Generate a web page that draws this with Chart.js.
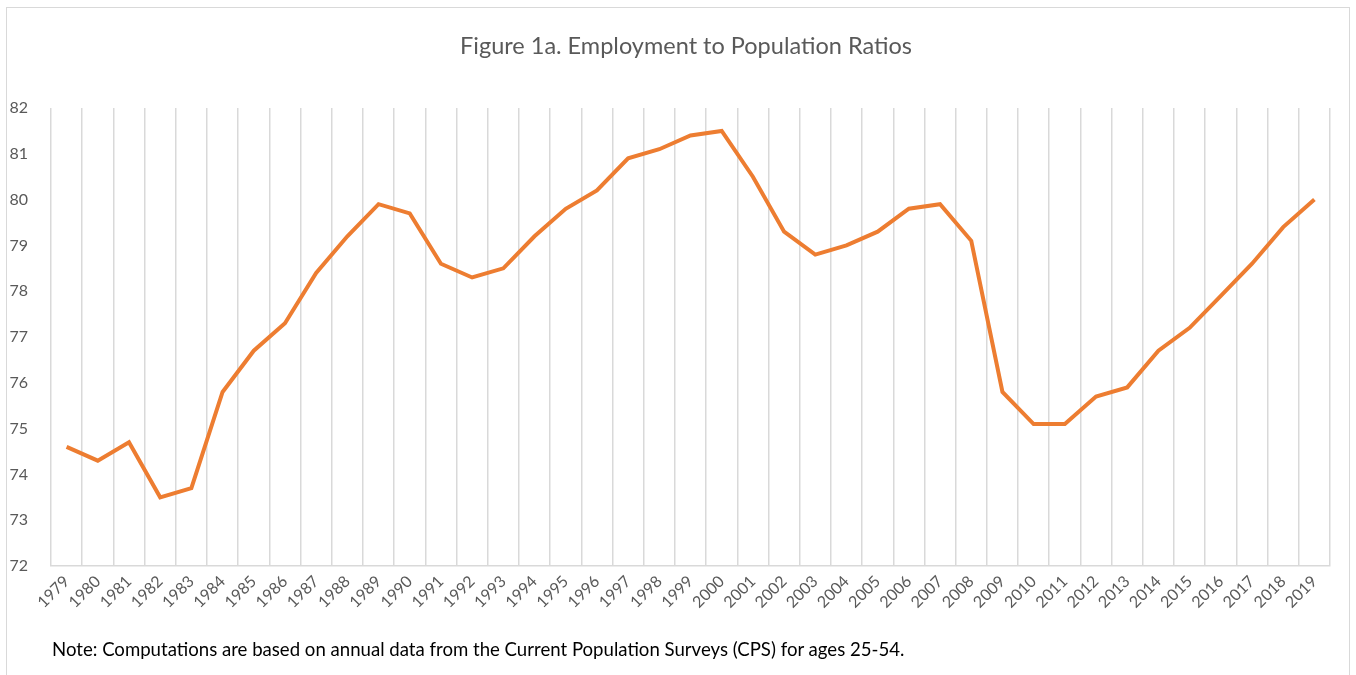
<!DOCTYPE html>
<html>
<head>
<meta charset="utf-8">
<script src="https://cdn.jsdelivr.net/npm/chart.js@4/dist/chart.umd.min.js"></script>
<style>
  html, body { margin: 0; padding: 0; background: #fff; overflow: hidden; }
  #frame {
    position: absolute; left: 6px; top: 7px; width: 1342px; height: 720px;
    border: 1px solid #d9d9d9; border-bottom: none;
  }
  #wrap { position: absolute; left: 0; top: 0; width: 1356px; height: 675px; }
  #title {
    position: absolute; left: 0; top: 31px; width: 1372px; text-align: center;
    font-family: Lato, "Noto Sans", sans-serif; font-size: 23.5px; line-height: 28px;
    color: #595959; white-space: nowrap;
  }
  #note {
    position: absolute; left: 52px; top: 638px;
    font-family: Lato, "Noto Sans", sans-serif; font-size: 18.6px; color: #000;
    white-space: nowrap;
  }
</style>
</head>
<body>
<div id="frame"></div>
<div id="wrap"><canvas id="lineChart"></canvas></div>
<div id="title">Figure 1a. Employment to Population Ratios</div>
<div id="note">Note: Computations are based on annual data from the Current Population Surveys (CPS) for ages 25-54.</div>
<script>
// Tahun (kategori)
var years = ['1979', '1980', '1981', '1982', '1983', '1984', '1985', '1986', '1987', '1988',
  '1989', '1990', '1991', '1992', '1993', '1994', '1995', '1996', '1997', '1998',
  '1999', '2000', '2001', '2002', '2003', '2004', '2005', '2006', '2007', '2008',
  '2009', '2010', '2011', '2012', '2013', '2014', '2015', '2016', '2017', '2018', '2019'];

// Rasio employment to population
var ratios = [74.6, 74.3, 74.7, 73.5, 73.7, 75.8, 76.7, 77.3, 78.4, 79.2,
  79.9, 79.7, 78.6, 78.3, 78.5, 79.2, 79.8, 80.2, 80.9, 81.1,
  81.4, 81.5, 80.5, 79.3, 78.8, 79.0, 79.3, 79.8, 79.9, 79.1,
  75.8, 75.1, 75.1, 75.7, 75.9, 76.7, 77.2, 77.9, 78.6, 79.4, 80.0];

var yMin = 72;
var yMax = 82;

document.addEventListener('DOMContentLoaded', function () {
  var ctx = document.getElementById('lineChart').getContext('2d');
  var fontFamily = 'Lato, "Noto Sans", sans-serif';

  new Chart(ctx, {
    type: 'line',
    data: {
      labels: years,
      datasets: [{
        data: ratios,
        borderColor: '#ED7D31',
        borderWidth: 4,
        pointRadius: 0,
        tension: 0,
        fill: false
      }]
    },
    options: {
      responsive: true,
      maintainAspectRatio: false,
      animation: false,
      layout: { padding: { top: 108, right: 26, bottom: 0, left: 0 } },
      plugins: {
        legend: { display: false },
        tooltip: { enabled: false }
      },
      scales: {
        x: {
          offset: true,
          grid: { offset: true, color: '#d9d9d9', lineWidth: 1.5, drawTicks: false },
          border: { color: '#d9d9d9', width: 1.5 },
          ticks: {
            color: '#595959',
            font: { family: fontFamily, size: 16 },
            minRotation: 45,
            maxRotation: 45,
            autoSkip: false,
            padding: 6
          },
          afterFit: function (s) { s.height = 109; }
        },
        y: {
          min: yMin,
          max: yMax,
          grid: { display: false },
          border: { display: false },
          ticks: {
            stepSize: 1,
            color: '#595959',
            font: { family: fontFamily, size: 16 },
            padding: 15
          },
          afterFit: function (s) { s.width = 51; }
        }
      }
    }
  });
});
</script>
</body>
</html>
